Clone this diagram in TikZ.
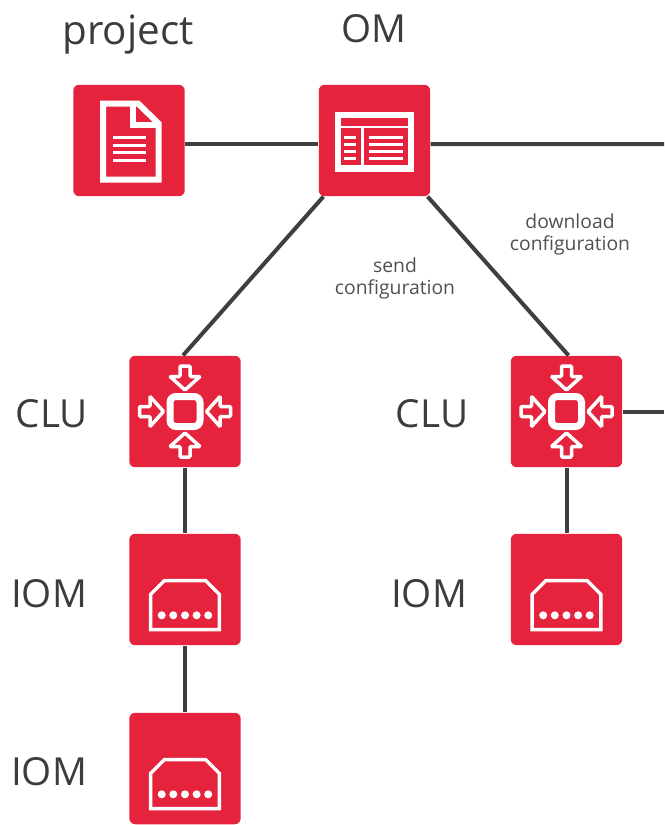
\documentclass[tikz,border=0pt]{standalone}
\usepackage{fontspec}
\setmainfont{Open Sans}
\usetikzlibrary{calc}
\definecolor{boxred}{HTML}{E5233D}
\definecolor{wiregray}{HTML}{3F3F3F}
\definecolor{labelgray}{HTML}{3C3C3C}
\definecolor{notegray}{HTML}{505050}

\tikzset{
  pics/docicon/.style={code={ % page with folded corner
    \draw[white, line width=0.12cm, miter limit=10] (-26,-37) -- (9,-37) -- (29.5,-17) -- (29.5,39) -- (-26,39) -- cycle;
    \draw[white, line width=0.12cm] (4,-37) -- (4,-16) -- (29.5,-16);
    \foreach \y in {-2.7,4.7,12.3,19.7} {
      \draw[iconline] (-16,\y) -- (17,\y);
    }
  }},
  pics/omicon/.style={code={ % window with title bar and two panels
    \fill[white] (-39.5,-28.3) rectangle (39,31);
    \fill[boxred] (-33.5,-22.3) rectangle (33,-15);
    \fill[boxred] (-33.5,-12.3) rectangle (-13.5,24.3);
    \fill[boxred] (-10.2,-12.3) rectangle (33,24.3);
    \foreach \y in {-3.3,4,11.3,18.3} {
      \draw[iconline] (-30.2,\y) -- (-18.8,\y);
      \draw[iconline] (-5.2,\y) -- (28.8,\y);
    }
  }},
  pics/cluicon/.style={code={ % square with four arrows pointing at it
    \draw[white, line width=0.14cm, rounded corners=0.12cm] (-15,-15) rectangle (15,15);
    \foreach \a in {0,90,180,270} {
      \draw[white, line width=0.07cm, rounded corners=0.02cm, rotate=\a]
        (-5,-45.5) -- (5,-45.5) -- (5,-35) -- (15,-35) -- (0,-21.5) -- (-15,-35) -- (-5,-35) -- cycle;
    }
  }},
  pics/iomicon/.style={code={ % connector socket with five pins
    \draw[white, line width=0.07cm] (-34.3,40) -- (-34.3,4.8) -- (-20.7,-8.8) -- (20.7,-8.8) -- (34.3,4.8) -- (34.3,40) -- cycle;
    \foreach \x in {-23.3,-11.7,0,11.6,23.2} {
      \fill[white] (\x,25.8) circle (0.08cm);
    }
  }}
}

\begin{document}
\begin{tikzpicture}[
    x=0.02cm, y=-0.02cm,
    unitbox/.style={fill=boxred, rounded corners=0.12cm, minimum size=2.23cm, inner sep=0pt},
    wire/.style={wiregray, line width=0.08cm},
    iconline/.style={white, line width=0.06cm},
    biglabel/.style={text=labelgray, font=\fontsize{22}{26}\selectfont},
    notelabel/.style={text=notegray, align=center, font=\fontsize{11}{12}\selectfont}
  ]
  \useasboundingbox (0,0) rectangle (664,825);

  % --- Boxes ---
  \node[unitbox] (project) at (129,140.5) {};
  \node[unitbox] (om) at (374.5,140.5) {};
  \node[unitbox] (cluA) at (185,411.5) {};
  \node[unitbox] (iomA) at (185,589.5) {};
  \node[unitbox] (iomB) at (185,768.5) {};
  \node[unitbox] (cluB) at (566.5,411.5) {};
  \node[unitbox] (iomC) at (566.5,589.5) {};

  % --- Free ends at the right margin ---
  \coordinate (omright) at (664,144);
  \coordinate (cluright) at (664,411.5);

  % --- Connectors ---
  \draw[wire] ([yshift=-0.07cm]project.east) -- ([yshift=-0.07cm]om.west);
  \draw[wire] ([yshift=-0.07cm]om.east) -- (omright);
  \draw[wire] ([xshift=0.1cm]om.south west) -- ([xshift=-0.04cm]cluA.north);
  \draw[wire] ([xshift=-0.06cm]om.south east) -- ([xshift=0.04cm]cluB.north);
  \draw[wire] (cluA.south) -- (iomA.north);
  \draw[wire] (iomA.south) -- (iomB.north);
  \draw[wire] (cluB.south) -- (iomC.north);
  \draw[wire] (cluB.east) -- (cluright);

  % --- Icons ---
  \pic at (project.center) {docicon};
  \pic at (om.center) {omicon};
  \pic at (cluA.center) {cluicon};
  \pic at (cluB.center) {cluicon};
  \pic at (iomA.center) {iomicon};
  \pic at (iomB.center) {iomicon};
  \pic at (iomC.center) {iomicon};

  % --- Labels ---
  \node[biglabel, font=\fontsize{23}{27}\selectfont] (projectlabel) at (128,35) {project};
  \node[biglabel] (omlabel) at (374,29) {OM};
  \node[biglabel] (clulabelA) at (52,413.5) {CLU};
  \node[biglabel] (clulabelB) at (432,413.5) {CLU};
  \node[biglabel] (iomlabelA) at (49,594) {IOM};
  \node[biglabel] (iomlabelB) at (49,772) {IOM};
  \node[biglabel] (iomlabelC) at (429,594) {IOM};
  \node[notelabel] (sendlabel) at (395,278.5) {send\\configuration};
  \node[notelabel] (downloadlabel) at (570,234.5) {download\\configuration};

\end{tikzpicture}
\end{document}
